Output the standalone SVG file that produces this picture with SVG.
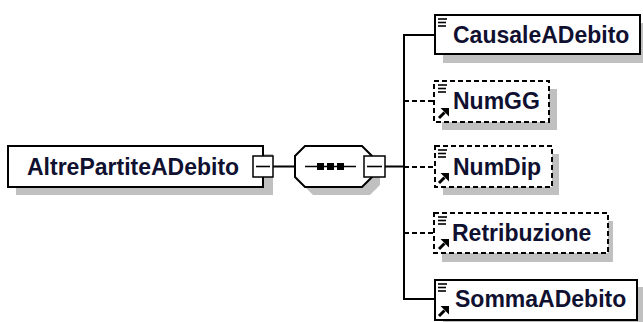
<svg xmlns="http://www.w3.org/2000/svg" width="643" height="322" viewBox="0 0 643 322">
<defs>
<style>
.sh{fill:#c0c0c0;stroke:none}
.bx{fill:#fff;stroke:#000;stroke-width:2}
.dx{fill:#fff;stroke:#000;stroke-width:2;stroke-dasharray:5,3}
.pm{fill:#fff;stroke:#000;stroke-width:1.5}
.ln{stroke:#000;stroke-width:2;fill:none}
.dl{stroke:#000;stroke-width:2;fill:none;stroke-dasharray:5,3}
.ic{stroke:#000;stroke-width:1.6}
.t{font-family:"Liberation Sans",Arial,sans-serif;font-weight:bold;font-size:23px;fill:#101030}
</style>
<g id="lines">
<line class="ic" x1="438" y1="0" x2="447" y2="0"/>
<line class="ic" x1="438" y1="3.5" x2="446" y2="3.5"/>
<line class="ic" x1="438" y1="7" x2="446" y2="7"/>
</g>
<g id="arrow">
<line x1="439" y1="-1" x2="444.5" y2="-6.5" stroke="#000" stroke-width="3"/>
<polygon points="440.5,-11 449,-11 449,-2.5" fill="#000"/>
</g>
</defs>

<g id="connectors">
<line class="ln" x1="273" y1="166.5" x2="295" y2="166.5"/>
<line class="ln" x1="385" y1="166.5" x2="404" y2="166.5"/>
<line class="ln" x1="404" y1="35" x2="404" y2="299"/>
<line class="ln" x1="403" y1="35" x2="435" y2="35"/>
<line class="dl" x1="404" y1="101" x2="434" y2="101"/>
<line class="dl" x1="404" y1="167" x2="434" y2="167"/>
<line class="dl" x1="404" y1="233" x2="434" y2="233"/>
<line class="ln" x1="403" y1="299" x2="435" y2="299"/>
</g>

<g id="AltrePartiteADebito">
<rect class="sh" x="16" y="154" width="257" height="41"/>
<rect class="bx" x="8" y="146" width="255" height="41"/>
<text class="t" x="27" y="175">AltrePartiteADebito</text>
<rect class="pm" x="253" y="156" width="20" height="21"/>
<line class="ic" x1="256" y1="166.5" x2="270" y2="166.5"/>
</g>

<g id="sequence">
<polygon class="sh" points="313,154 370,154 380,164 380,185 370,195 313,195 303,185 303,164"/>
<polygon class="bx" points="305,146 362,146 372,156 372,177 362,187 305,187 295,177 295,156"/>
<line class="ic" x1="305" y1="166.5" x2="356" y2="166.5"/>
<rect x="317" y="163" width="7" height="7" fill="#000"/>
<rect x="327" y="163" width="7" height="7" fill="#000"/>
<rect x="337" y="163" width="7" height="7" fill="#000"/>
<rect class="pm" x="364" y="156" width="21" height="21"/>
<line class="ic" x1="367" y1="166.5" x2="382" y2="166.5"/>
</g>

<g id="CausaleADebito">
<rect class="sh" x="443" y="23" width="200" height="40"/>
<rect class="bx" x="435" y="15" width="205" height="39"/>
<use href="#lines" y="19"/>
<text class="t" x="453" y="43">CausaleADebito</text>
</g>

<g id="NumGG">
<rect class="sh" x="442" y="89" width="115" height="41"/>
<rect class="dx" x="434" y="81" width="115" height="41"/>
<use href="#lines" y="85"/>
<use href="#arrow" y="119"/>
<text class="t" x="453" y="109">NumGG</text>
</g>

<g id="NumDip">
<rect class="sh" x="443" y="154" width="116" height="41"/>
<rect class="dx" x="435" y="146" width="117" height="41"/>
<use href="#lines" y="150"/>
<use href="#arrow" y="184"/>
<text class="t" x="453" y="175">NumDip</text>
</g>

<g id="Retribuzione">
<rect class="sh" x="442" y="221" width="171" height="41"/>
<rect class="dx" x="434" y="213" width="174" height="40"/>
<use href="#lines" y="217"/>
<use href="#arrow" y="250"/>
<text class="t" x="452" y="241">Retribuzione</text>
</g>

<g id="SommaADebito">
<rect class="sh" x="443" y="287" width="200" height="40"/>
<rect class="bx" x="435" y="280" width="202" height="40"/>
<use href="#lines" y="284"/>
<use href="#arrow" y="317"/>
<text class="t" x="455" y="307">SommaADebito</text>
</g>
</svg>
